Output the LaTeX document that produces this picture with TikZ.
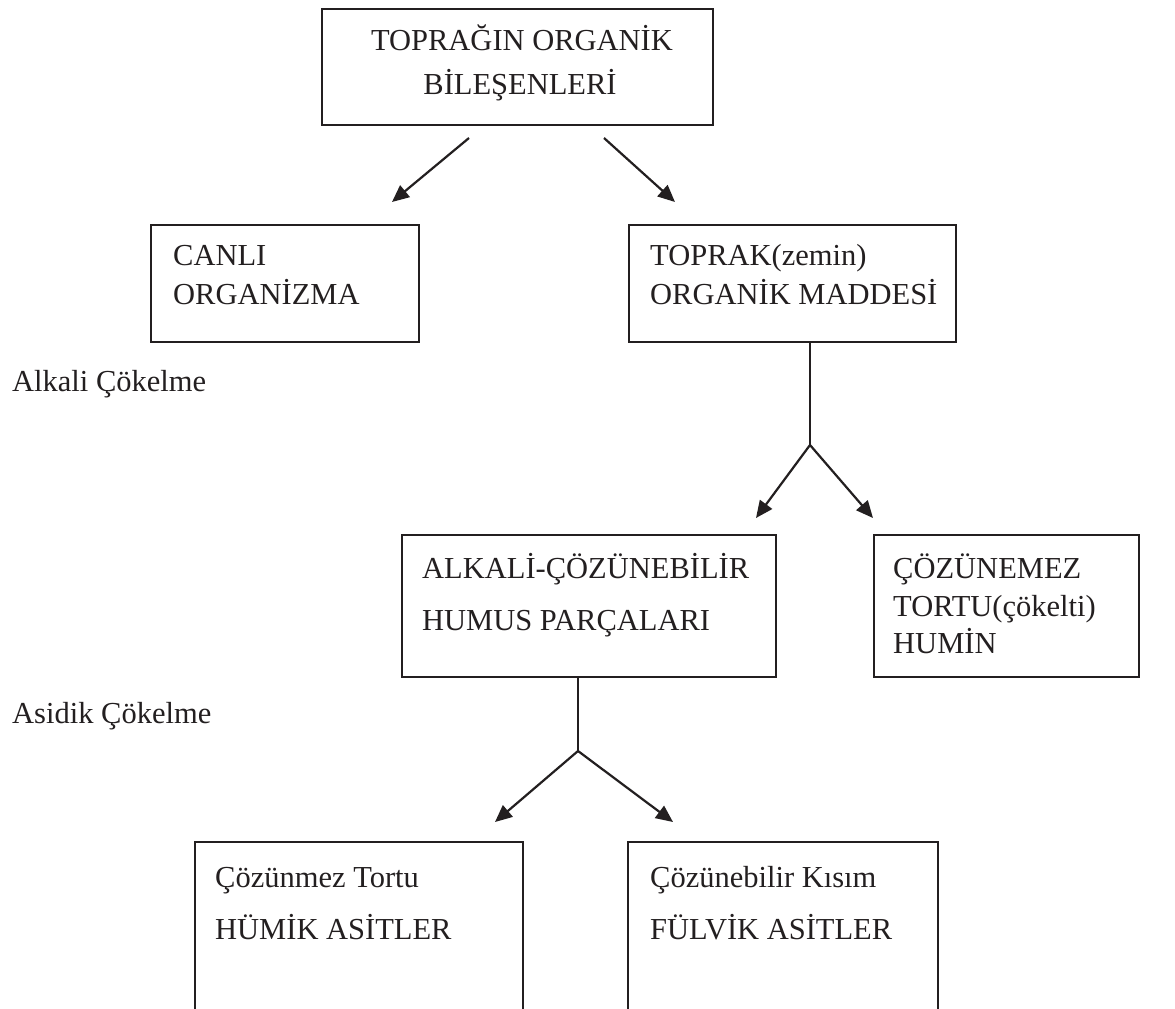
\documentclass[tikz,border=0pt]{standalone}
\usepackage{fontspec}
\setmainfont{Liberation Serif}
\usetikzlibrary{arrows.meta}
\definecolor{ink}{HTML}{231F20}
\begin{document}
\begin{tikzpicture}[x=1pt,y=-1pt,
  box/.style={draw=ink, line width=2.2pt, inner sep=0pt, anchor=north west},
  txt/.style={anchor=base west, inner sep=0pt, text=ink, font=\fontsize{30.5}{37}\selectfont},
  ctxt/.style={txt, anchor=base},
  arr/.style={draw=ink, line width=2.2pt, -{Triangle[length=17pt,width=15pt]}},
  ln/.style={draw=ink, line width=2.2pt}]
\useasboundingbox[fill=white] (0,0) rectangle (1175,1009);

% boxes
\node[box, minimum width=391pt, minimum height=116pt] (top) at (321,8) {};
\node[box, minimum width=268pt, minimum height=117pt] (canli) at (150,224) {};
\node[box, minimum width=327pt, minimum height=117pt] (toprak) at (628,224) {};
\node[box, minimum width=374pt, minimum height=142pt] (alkali) at (401,534) {};
\node[box, minimum width=265pt, minimum height=142pt] (cozun) at (873,534) {};
\draw[ln] (195,1015) |- (523,842) -- (523,1015);
\draw[ln] (628,1015) |- (938,842) -- (938,1015);

% texts
\node[ctxt] (t1) at (522,50) {TOPRAĞIN ORGANİK};
\node[ctxt] (t2) at (520,94) {BİLEŞENLERİ};
\node[txt] (c1) at (173,265) {CANLI};
\node[txt] (c2) at (173,304) {ORGANİZMA};
\node[txt] (p1) at (650,265) {TOPRAK(zemin)};
\node[txt] (p2) at (650,304) {ORGANİK MADDESİ};
\node[txt] (lab1) at (12,391) {Alkali Çökelme};
\node[txt] (a1) at (422,578) {ALKALİ-ÇÖZÜNEBİLİR};
\node[txt] (a2) at (422,630) {HUMUS PARÇALARI};
\node[txt] (z1) at (893,578) {ÇÖZÜNEMEZ};
\node[txt] (z2) at (893,616) {TORTU(çökelti)};
\node[txt] (z3) at (893,653) {HUMİN};
\node[txt] (lab2) at (12,723) {Asidik Çökelme};
\node[txt] (h1) at (215,887) {Çözünmez Tortu};
\node[txt] (h2) at (215,939) {HÜMİK ASİTLER};
\node[txt] (f1) at (650,887) {Çözünebilir Kısım};
\node[txt] (f2) at (650,939) {FÜLVİK ASİTLER};

% connectors
\coordinate (s1) at (469,138);
\coordinate (e1) at (392,202);
\coordinate (s2) at (604,138);
\coordinate (e2) at (675,202);
\draw[arr] (s1) -- (e1);
\draw[arr] (s2) -- (e2);

\coordinate (j1) at (810,445);
\coordinate (e3) at (756,518);
\coordinate (e4) at (873,518);
\draw[ln] (j1 |- toprak.south) -- (j1);
\draw[arr] (j1) -- (e3);
\draw[arr] (j1) -- (e4);

\coordinate (j2) at (578,751);
\coordinate (e5) at (495,822);
\coordinate (e6) at (673,822);
\draw[ln] (j2 |- alkali.south) -- (j2);
\draw[arr] (j2) -- (e5);
\draw[arr] (j2) -- (e6);
\end{tikzpicture}
\end{document}
